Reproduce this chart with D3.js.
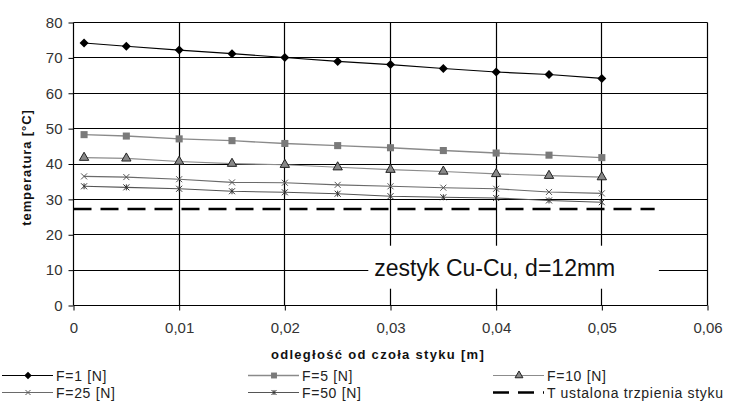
<!DOCTYPE html>
<html>
<head>
<meta charset="utf-8">
<script src="https://cdn.jsdelivr.net/npm/d3@7"></script>
<style>
  body { margin: 0; background: #fff; }
  text { font-family: "Liberation Sans", Arial, sans-serif; }
</style>
</head>
<body>
<div id="chart"></div>
<script>
// odległość od czoła styku [m]
var distances = [0.001, 0.005, 0.01, 0.015, 0.02, 0.025, 0.03, 0.035, 0.04, 0.045, 0.05];
var tempF1  = [74.2, 73.3, 72.2, 71.2, 70.1, 69.0, 68.1, 67.0, 66.0, 65.3, 64.2];
var tempF5  = [48.3, 47.9, 47.1, 46.6, 45.8, 45.2, 44.6, 43.8, 43.1, 42.5, 41.8];
var tempF10 = [41.8, 41.6, 40.7, 40.1, 39.8, 39.1, 38.4, 37.9, 37.2, 36.7, 36.3];
var tempF25 = [36.5, 36.3, 35.7, 34.8, 34.7, 34.1, 33.7, 33.3, 33.0, 32.1, 31.7];
var tempF50 = [33.7, 33.4, 33.0, 32.3, 32.0, 31.6, 30.9, 30.6, 30.4, 29.7, 29.2];
var steadyTemp = 27.3;
var steadyX = [0, 0.055];

var xTicks = [0, 0.01, 0.02, 0.03, 0.04, 0.05, 0.06];
var yTicks = [0, 10, 20, 30, 40, 50, 60, 70, 80];
var seriesNames = ["F=1 [N]", "F=5 [N]", "F=10 [N]", "F=25 [N]", "F=50 [N]"];
var steadyName = "T ustalona trzpienia styku";
var boxLabel = "zestyk Cu-Cu, d=12mm";

var margin = { top: 22, right: 23, bottom: 114, left: 73 },
    width = 730 - margin.left - margin.right,
    height = 419 - margin.top - margin.bottom;

var svg = d3.select("#chart")
    .append("svg")
    .attr("width", 730)
    .attr("height", 419);

var chart = svg.append("g")
    .attr("transform", "translate(" + (margin.left + 0.5) + "," + (margin.top + 0.5) + ")");

var x = d3.scaleLinear().domain([0, 0.06]).range([0, width]);
var y = d3.scaleLinear().domain([0, 80]).range([height, 0]);

// custom marker shapes
var symDiamond = { draw: function (ctx, size) {
    var r = Math.sqrt(size) / 2;
    ctx.moveTo(0, -r); ctx.lineTo(r, 0); ctx.lineTo(0, r); ctx.lineTo(-r, 0); ctx.closePath();
} };
var symX = { draw: function (ctx, size) {
    var r = Math.sqrt(size) / 2;
    ctx.moveTo(-r, -r); ctx.lineTo(r, r);
    ctx.moveTo(-r, r); ctx.lineTo(r, -r);
} };
var symStar = { draw: function (ctx, size) {
    var r = Math.sqrt(size) / 2;
    ctx.moveTo(-r, -r); ctx.lineTo(r, r);
    ctx.moveTo(-r, r); ctx.lineTo(r, -r);
    ctx.moveTo(0, -r); ctx.lineTo(0, r);
} };

var series = [
    { name: seriesNames[0], values: tempF1,  line: "#000", lw: 1.1, type: symDiamond,  size: 81, fill: "#000", stroke: "none" },
    { name: seriesNames[1], values: tempF5,  line: "#8a8a8a", lw: 1.4, type: d3.symbolSquare, size: 50, fill: "#7a7a7a", stroke: "none" },
    { name: seriesNames[2], values: tempF10, line: "#8c8c8c", lw: 1.1, type: d3.symbolTriangle, size: 38, fill: "#888", stroke: "#222" },
    { name: seriesNames[3], values: tempF25, line: "#6a6a6a", lw: 1.1, type: symX,   size: 36, fill: "none", stroke: "#555" },
    { name: seriesNames[4], values: tempF50, line: "#555", lw: 1.1, type: symStar, size: 36, fill: "none", stroke: "#333" }
];

// grid
var grid = chart.append("g");
grid.selectAll(".hgrid")
    .data(yTicks)
    .enter()
    .append("line")
    .attr("x1", 0).attr("x2", width)
    .attr("y1", function (d) { return Math.round(y(d)); })
    .attr("y2", function (d) { return Math.round(y(d)); })
    .attr("stroke", "#000").attr("stroke-width", 1.2);
grid.selectAll(".vgrid")
    .data(xTicks)
    .enter()
    .append("line")
    .attr("y1", 0).attr("y2", height)
    .attr("x1", function (d) { return Math.round(x(d)); })
    .attr("x2", function (d) { return Math.round(x(d)); })
    .attr("stroke", "#000").attr("stroke-width", 1.2);

// axes
chart.append("g")
    .call(d3.axisLeft(y).tickValues(yTicks).tickSize(5).tickPadding(6).tickFormat(function (d) { return d; }))
    .call(function (g) {
        g.select(".domain").remove();
        g.selectAll("line").attr("stroke", "#000");
        g.selectAll("text").attr("font-size", "15px").attr("fill", "#333").style("font-family", "Liberation Sans, Arial, sans-serif");
    });

chart.append("g")
    .attr("transform", "translate(0," + height + ")")
    .call(d3.axisBottom(x).tickValues(xTicks).tickSize(5).tickPadding(12)
        .tickFormat(function (d) { return String(d).replace(".", ","); }))
    .call(function (g) {
        g.select(".domain").remove();
        g.selectAll("line").attr("stroke", "#000");
        g.selectAll("text").attr("font-size", "15px").attr("fill", "#333").style("font-family", "Liberation Sans, Arial, sans-serif");
    });

// label box
var box = chart.append("g")
    .attr("transform", "translate(" + (x(0.0279) ) + "," + (y(16.9)) + ")");
box.append("rect")
    .attr("x", 0).attr("y", 0)
    .attr("width", x(0.0275)).attr("height", 43)
    .attr("fill", "#fff");
box.append("text")
    .attr("x", 6).attr("y", 30)
    .attr("font-size", "23px")
    .attr("fill", "#111")
    .text(boxLabel);

// steady temperature dashed line
chart.append("line")
    .attr("x1", x(steadyX[0])).attr("x2", x(steadyX[1]))
    .attr("y1", y(steadyTemp)).attr("y2", y(steadyTemp))
    .attr("stroke", "#000").attr("stroke-width", 2.6)
    .attr("stroke-dasharray", "18,9");

// series lines and markers
var line = d3.line()
    .x(function (d, i) { return x(distances[i]); })
    .y(function (d) { return y(d); });

series.forEach(function (s) {
    chart.append("path")
        .datum(s.values)
        .attr("d", line)
        .attr("fill", "none")
        .attr("stroke", s.line)
        .attr("stroke-width", s.lw);
    chart.selectAll(null)
        .data(s.values)
        .enter()
        .append("path")
        .attr("transform", function (d, i) { return "translate(" + x(distances[i]) + "," + y(d) + ")"; })
        .attr("d", d3.symbol().type(s.type).size(s.size))
        .attr("fill", s.fill)
        .attr("stroke", s.stroke)
        .attr("stroke-width", 1);
});

// axis titles
svg.append("text")
    .attr("x", margin.left + width / 2 - 12)
    .attr("y", 359)
    .attr("text-anchor", "middle")
    .attr("font-size", "13px")
    .attr("font-weight", "bold")
    .attr("letter-spacing", "1.3px")
    .attr("fill", "#111")
    .text("odległość od czoła styku [m]");

svg.append("text")
    .attr("transform", "translate(31," + (margin.top + height / 2 + 4) + ") rotate(-90)")
    .attr("text-anchor", "middle")
    .attr("font-size", "13px")
    .attr("font-weight", "bold")
    .attr("letter-spacing", "0.9px")
    .attr("fill", "#111")
    .text("temperatura [°C]");

// legend
var legendCols = [2, 248, 493], legendRows = [375, 392];
var legendItems = series.map(function (s, i) { return { s: s, col: i % 3, row: Math.floor(i / 3) }; });
legendItems.push({ s: null, col: 2, row: 1 });

var legend = svg.append("g");
legendItems.forEach(function (it) {
    var lx = legendCols[it.col], ly = legendRows[it.row] + 0.5;
    var g = legend.append("g");
    if (it.s) {
        g.append("line")
            .attr("x1", lx).attr("x2", lx + 51).attr("y1", ly).attr("y2", ly)
            .attr("stroke", it.s.line).attr("stroke-width", it.s.lw);
        g.append("path")
            .attr("transform", "translate(" + (lx + 26) + "," + ly + ")")
            .attr("d", d3.symbol().type(it.s.type).size(it.s.size * 0.7))
            .attr("fill", it.s.fill).attr("stroke", it.s.stroke).attr("stroke-width", 1);
    } else {
        g.append("line")
            .attr("x1", lx).attr("x2", lx + 51).attr("y1", ly).attr("y2", ly)
            .attr("stroke", "#000").attr("stroke-width", 2.6)
            .attr("stroke-dasharray", "16,9");
    }
    g.append("text")
        .attr("x", lx + 54)
        .attr("y", ly + 5)
        .attr("font-size", "14px")
        .attr("letter-spacing", "0.7px")
        .attr("fill", "#222")
        .text(it.s ? it.s.name : steadyName);
});
</script>
</body>
</html>
